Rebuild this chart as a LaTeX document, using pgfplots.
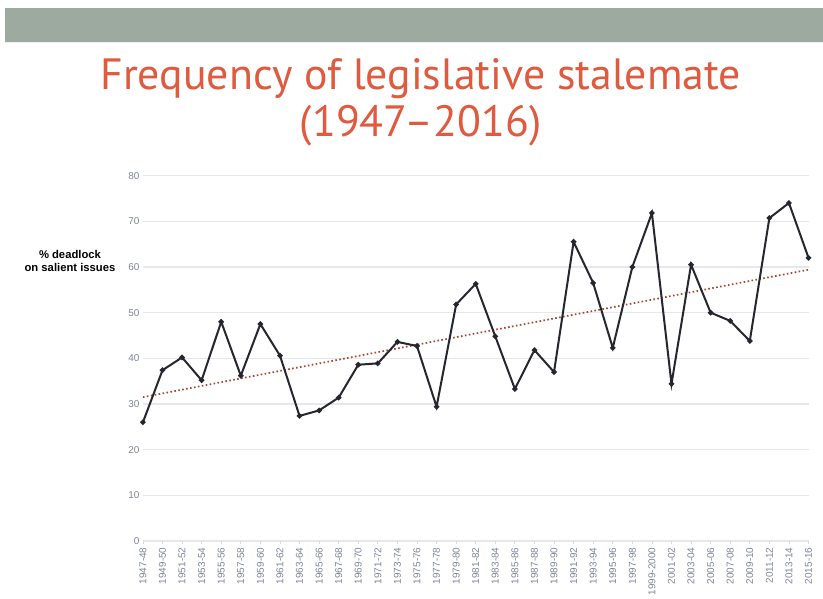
\documentclass[border=0pt]{standalone}
\usepackage{pgfplots}
\pgfplotsset{compat=1.18}
\usepackage{fontspec}
\setmainfont{Liberation Sans}
\newfontfamily\titlefont{PT Sans}
\definecolor{banner}{HTML}{9CAAA0}
\definecolor{titlered}{HTML}{DF5A3E}
\definecolor{lineclr}{HTML}{26262F}
\definecolor{trend}{HTML}{A54634}
\definecolor{ticklab}{HTML}{7E8597}
\definecolor{gridc}{HTML}{E5E7EB}
\begin{document}
\begin{tikzpicture}[x=1bp,y=1bp]
\fill[white] (0,0) rectangle (823,594);
\fill[banner] (5,552) rectangle (823,586);
\draw[gridc!60,line width=1bp] (5,551.5) -- (823,551.5);
\node[anchor=base, text=titlered, font=\titlefont\fontsize{44}{50}\selectfont, inner sep=0] at (421,504) {Frequency of legislative stalemate};
\node[anchor=base, text=titlered, font=\titlefont\fontsize{44}{50}\selectfont, inner sep=0] at (421,457) {(1947–2016)};
\node[align=center, font=\bfseries\fontsize{11.3}{13.5}\selectfont, inner sep=0] at (70,333) {\% deadlock\\on salient issues};
\begin{axis}[
  at={(143bp,52.6bp)}, anchor=south west,
  scale only axis, width=666bp, height=365.7bp,
  xmin=0, xmax=34, ymin=0, ymax=80,
  clip=false,
  axis line style={draw=none},
  ytick={0,10,...,80},
  ymajorgrids, grid style={gridc, line width=1.2bp},
  xtick={0,...,34},
  xticklabels={1947-48,1949-50,1951-52,1953-54,1955-56,1957-58,1959-60,1961-62,1963-64,1965-66,1967-68,1969-70,1971-72,1973-74,1975-76,1977-78,1979-80,1981-82,1983-84,1985-86,1987-88,1989-90,1991-92,1993-94,1995-96,1997-98,1999-2000,2001-02,2003-04,2005-06,2007-08,2009-10,2011-12,2013-14,2015-16},
  x tick label style={rotate=90, anchor=east, font=\fontsize{10}{10}\selectfont, text=ticklab},
  y tick label style={font=\fontsize{10}{10}\selectfont, text=ticklab},
  /pgf/number format/assume math mode=true,
  xtick pos=bottom, ytick pos=left,
  x tick style={gridc!150, line width=0.8bp},
  xtick align=outside, ytick style={draw=none},
  major tick length=3bp,
]
\addplot[trend, line width=1.7bp, dash pattern=on 1.6bp off 2.4bp] coordinates {(0,31.5) (34,59.4)};
\addplot[lineclr, line width=2bp, mark=*, mark size=1.6bp] coordinates {
(0,26.0) (1,37.4) (2,40.2) (3,35.2) (4,48.0) (5,36.2) (6,47.5) (7,40.6)
(8,27.4) (9,28.6) (10,31.4) (11,38.6) (12,38.9) (13,43.6) (14,42.7) (15,29.4)
(16,51.8) (17,56.3) (18,44.8) (19,33.3) (20,41.8) (21,37.0) (22,65.5) (23,56.5)
(24,42.3) (25,60.0) (26,71.8) (27,34.4) (28,60.5) (29,50.0) (30,48.2) (31,43.8)
(32,70.7) (33,74.0) (34,62.0)};
\end{axis}
\end{tikzpicture}
\end{document}
